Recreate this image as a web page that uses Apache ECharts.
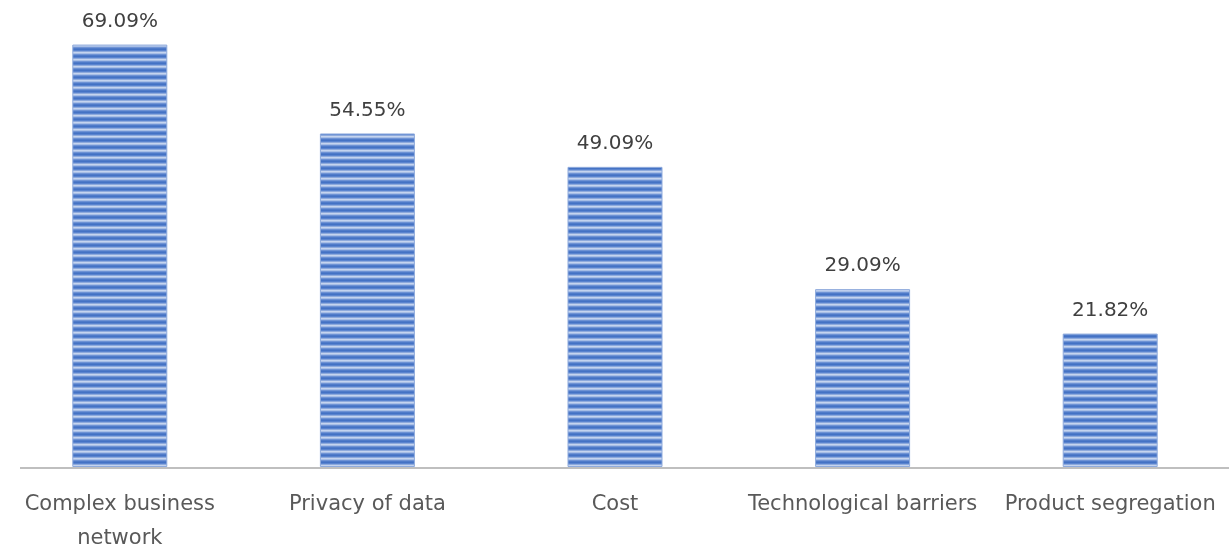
<!DOCTYPE html>
<html>
<head>
<meta charset="utf-8">
<script src="https://cdn.jsdelivr.net/npm/echarts@6/dist/echarts.min.js"></script>
<style>
  html, body { margin: 0; padding: 0; background: #fff; }
  #main { width: 1229px; height: 550px; }
</style>
</head>
<body>
<div id="main"></div>
<script>
  var categories = ['Complex business\nnetwork', 'Privacy of data', 'Cost', 'Technological barriers', 'Product segregation'];
  var values = [69.09, 54.55, 49.09, 29.09, 21.82];

  // horizontal stripe pattern like the Excel fill
  function stripes() {
    var c = document.createElement('canvas');
    c.width = 8; c.height = 7;
    var ctx = c.getContext('2d');
    var rows = ['#4472C4', '#5A84CF', '#8EAADC', '#C5D4EF', '#A7BEE6', '#6F93D5', '#4F7BC9'];
    for (var i = 0; i < rows.length; i++) {
      ctx.fillStyle = rows[i];
      ctx.fillRect(0, i, 8, 1);
    }
    return c;
  }

  var myChart = echarts.init(document.getElementById('main'));
  var option = {
    animation: false,
    grid: { left: -4, right: -5, top: 39, bottom: 83, outerBoundsMode: 'none' },
    xAxis: {
      type: 'category',
      data: categories,
      axisLine: { show: false },
      axisTick: { show: false },
      axisLabel: {
        color: '#595959',
        fontFamily: 'DejaVu Sans',
        fontSize: 21,
        lineHeight: 34,
        margin: 21,
        interval: 0
      }
    },
    yAxis: {
      type: 'value',
      min: 0,
      max: 70,
      show: false,
      splitLine: { show: false }
    },
    series: [{
      type: 'bar',
      data: values,
      barWidth: 95,
      itemStyle: {
        color: { image: stripes(), repeat: 'repeat' },
        borderColor: '#8EAADC',
        borderWidth: 1
      },
      label: {
        show: true,
        position: 'top',
        distance: 13,
        color: '#404040',
        fontFamily: 'DejaVu Sans',
        fontSize: 20,
        formatter: function (p) { return p.value.toFixed(2) + '%'; }
      }
    }]
  };
  myChart.setOption(option);

  // horizontal axis line, starts a bit in from the left edge like the original
  var y0 = myChart.convertToPixel({ yAxisIndex: 0 }, 0);
  myChart.setOption({
    graphic: [{
      type: 'line',
      z: 10,
      shape: { x1: 20, y1: y0 + 1, x2: 1229, y2: y0 + 1 },
      style: { stroke: '#BFBFBF', lineWidth: 2 }
    }]
  });
</script>
</body>
</html>
